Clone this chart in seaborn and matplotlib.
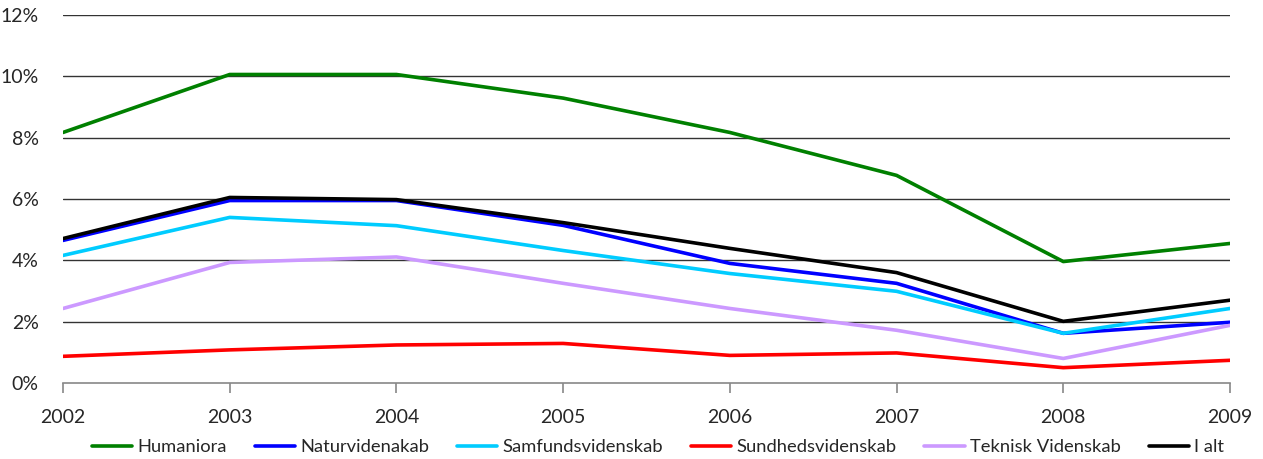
import pandas as pd
import matplotlib
matplotlib.use("Agg")
import matplotlib.pyplot as plt
import seaborn as sns
from matplotlib.ticker import PercentFormatter

# data (percent)
years = [2002, 2003, 2004, 2005, 2006, 2007, 2008, 2009]
humaniora = [8.17, 10.06, 10.06, 9.29, 8.17, 6.77, 3.96, 4.55]
naturvidenakab = [4.65, 5.95, 5.95, 5.14, 3.90, 3.25, 1.62, 1.98]
samfundsvidenskab = [4.16, 5.40, 5.13, 4.32, 3.57, 2.99, 1.62, 2.43]
sundhedsvidenskab = [0.87, 1.08, 1.24, 1.29, 0.90, 0.98, 0.50, 0.74]
teknisk = [2.43, 3.93, 4.11, 3.25, 2.43, 1.72, 0.80, 1.88]
i_alt = [4.71, 6.05, 5.98, 5.23, 4.39, 3.60, 2.01, 2.70]

series = {
    "Humaniora": humaniora,
    "Naturvidenakab": naturvidenakab,
    "Samfundsvidenskab": samfundsvidenskab,
    "Sundhedsvidenskab": sundhedsvidenskab,
    "Teknisk Videnskab": teknisk,
    "I alt": i_alt,
}
colors = ["#008000", "#0000FF", "#00CCFF", "#FF0000", "#CC99FF", "#000000"]

rows = []
for name, vals in series.items():
    for y, v in zip(years, vals):
        rows.append({"year": y, "value": v, "fag": name})
df = pd.DataFrame(rows)

sns.set_style("white")
plt.rcParams["font.family"] = ["Lato", "DejaVu Sans"]

fig = plt.figure(figsize=(12.63, 4.59), dpi=100)
ax = fig.add_axes([63 / 1263, 1 - 383 / 459, (1230 - 63) / 1263, (383 - 15) / 459])

for y in range(2, 13, 2):
    ax.axhline(y, color="#333333", lw=1, zorder=0)

sns.lineplot(data=df, x="year", y="value", hue="fag", palette=colors,
             linewidth=2.6, ax=ax, legend=True)

ax.set_xlim(2002, 2009)
ax.set_ylim(0, 12)
ax.set_xticks(years)
ax.set_yticks(range(0, 13, 2))
ax.yaxis.set_major_formatter(PercentFormatter(decimals=0))
ax.set_xlabel("")
ax.set_ylabel("")
for s in ["top", "right", "left"]:
    ax.spines[s].set_visible(False)
ax.spines["bottom"].set_color("#888888")
ax.spines["bottom"].set_linewidth(1.2)
ax.tick_params(axis="x", bottom=True, direction="out", length=7, width=1.2,
               color="#888888", labelsize=14, pad=12)
ax.tick_params(axis="y", left=False, labelsize=14, pad=14)

handles, labels = ax.get_legend_handles_labels()
ax.legend(handles, labels, loc="center", bbox_to_anchor=(0.51, -0.175),
          ncol=6, frameon=False, fontsize=13.2, handlelength=2.2,
          handletextpad=0.3, columnspacing=1.5)

fig.savefig("out.png", dpi=100)
